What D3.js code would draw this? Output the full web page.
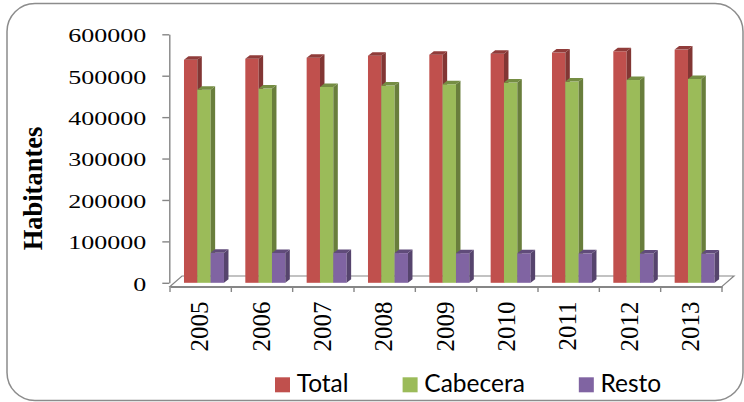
<!DOCTYPE html>
<html>
<head>
<meta charset="utf-8">
<script src="https://cdnjs.cloudflare.com/ajax/libs/d3/7.8.5/d3.min.js"></script>
<style>
body{margin:0;background:#ffffff;}
.serif text{font-family:"Liberation Serif","Times New Roman",serif;}
</style>
</head>
<body>
<div id="ChartPart"></div>
<script>
//Data of the chart-----------------------------------------------------------------------------------------
var Years = ["2005","2006","2007","2008","2009","2010","2011","2012","2013"];
var SeriesNames = ["Total","Cabecera","Resto"];
var TotalValues = [538500,541000,543500,548300,550800,553300,555800,559000,563000];
var CabeceraValues = [466400,468900,472800,476100,479300,483400,485800,489600,492100];
var RestoValues = [72400,72200,71900,71700,71500,71300,71100,70800,70500];
var YTicks = [0,100000,200000,300000,400000,500000,600000];
var SeriesColors = ["#C0504D","#9BBB59","#8064A2"];

var SeriesValues = [TotalValues,CabeceraValues,RestoValues];
var AxisColor = "#868686";
var SerifFont = "Liberation Serif";
var BarDx = 4.5, BarDy = -3.5;
var FloorDx = 12, FloorDy = -10.5;

//Create the svg--------------------------------------------------------------------------------------------
var ChartSvg = d3.select('#ChartPart')
	.append("svg")
	.attr("id","ChartSvg")
	.attr("width",744)
	.attr("height",402);

//Chart border
ChartSvg.append("rect")
	.attr("x",7)
	.attr("y",3.5)
	.attr("width",736)
	.attr("height",397)
	.attr("rx",28)
	.style("fill","#ffffff")
	.style("stroke","#8c8c8c")
	.style("stroke-width",1.5);

//Scales-----------------------------------------------------------------------------------------------------
var y = d3.scaleLinear().domain([0,600000]).range([282.8,34.3]);
var x0 = d3.scaleBand().domain(Years).range([170,722]);
var x1 = d3.scaleBand().domain(SeriesNames).range([0,x0.bandwidth()*0.652]);
var GroupOffset = x0.bandwidth()*0.228;
var FloorY = 286.5;

//Floor of the 3D chart--------------------------------------------------------------------------------------
var FloorPoints = [
	[x0.range()[0],FloorY],
	[x0.range()[0]+FloorDx,FloorY+FloorDy],
	[x0.range()[1]+FloorDx,FloorY+FloorDy],
	[x0.range()[1],FloorY]
];
ChartSvg.append("polygon")
	.attr("points",FloorPoints.map(function(p){return p.join(",");}).join(" "))
	.style("fill","none")
	.style("stroke",AxisColor)
	.style("stroke-width",1.2);

//Y axis-----------------------------------------------------------------------------------------------------
var YAxis = ChartSvg.append("g")
	.attr("class","serif")
	.attr("transform","translate(169.3,0)")
	.call(d3.axisLeft(y).tickValues(YTicks).tickSize(7).tickSizeOuter(0).tickPadding(16).tickFormat(d3.format("d")))
	.attr("font-family",SerifFont)
	.attr("font-size",26);
YAxis.select(".domain").style("stroke",AxisColor).style("stroke-width",1.4);
YAxis.selectAll(".tick line").style("stroke",AxisColor).style("stroke-width",1.4);
YAxis.selectAll(".tick text")
	.attr("dy","0.38em")
	.attr("transform","scale(1,0.75)")
	.style("fill","#000000");

//Y axis title
ChartSvg.append("text")
	.attr("transform","translate(41.5,188.5) rotate(-90)")
	.attr("text-anchor","middle")
	.text("Habitantes")
	.style("font-family",SerifFont)
	.style("font-weight","bold")
	.style("font-size","26.5px")
	.style("fill","#000000");

//Bars----------------------------------------------------------------------------------------------------------
var BarData = [];
for(var i=0;i<Years.length;i++)
	{
		for(var j=0;j<SeriesNames.length;j++)
			{
				BarData.push({year:Years[i],series:SeriesNames[j],value:SeriesValues[j][i],color:SeriesColors[j]});
			}
	}

var Bars = ChartSvg.selectAll(".bar")
	.data(BarData)
	.enter()
	.append("g")
	.attr("class","bar");

function BarLeft(d){ return x0(d.year)+GroupOffset+x1(d.series); }

Bars.append("rect")
	.attr("x",function(d){return BarLeft(d);})
	.attr("y",function(d){return y(d.value);})
	.attr("width",x1.bandwidth())
	.attr("height",function(d){return y(0)-y(d.value);})
	.style("fill",function(d){return d.color;});

Bars.append("polygon")
	.attr("points",function(d){
		var xl = BarLeft(d)+x1.bandwidth();
		return [[xl,y(d.value)],[xl+BarDx,y(d.value)+BarDy],[xl+BarDx,y(0)+BarDy],[xl,y(0)]].map(function(p){return p.join(",");}).join(" ");
	})
	.style("fill",function(d){return d3.color(d.color).darker(1.1);});

Bars.append("polygon")
	.attr("points",function(d){
		var xl = BarLeft(d), xr = xl+x1.bandwidth(), yt = y(d.value);
		return [[xl,yt],[xl+BarDx,yt+BarDy],[xr+BarDx,yt+BarDy],[xr,yt]].map(function(p){return p.join(",");}).join(" ");
	})
	.style("fill",function(d){return d3.color(d.color).darker(0.8);});

//X axis-------------------------------------------------------------------------------------------------------
var XAxis = ChartSvg.append("g")
	.attr("class","serif")
	.attr("transform","translate(0,"+FloorY+")")
	.call(d3.axisBottom(x0).tickSize(0).tickSizeOuter(0))
	.attr("font-family",SerifFont)
	.attr("font-size",25);
XAxis.select(".domain").style("stroke",AxisColor).style("stroke-width",2);
XAxis.selectAll(".tick text")
	.attr("transform","rotate(-90)")
	.attr("x",-15)
	.attr("y",0)
	.attr("dy","0.3em")
	.attr("text-anchor","end")
	.style("fill","#000000");

XAxis.selectAll(".boundtick")
	.data(d3.range(Years.length+1))
	.enter()
	.append("line")
	.attr("class","boundtick")
	.attr("x1",function(d){return x0.range()[0]+d*x0.step();})
	.attr("x2",function(d){return x0.range()[0]+d*x0.step();})
	.attr("y1",0)
	.attr("y2",5.5)
	.style("stroke",AxisColor)
	.style("stroke-width",1.4);

//Legend--------------------------------------------------------------------------------------------------------
var LegendX = 275;
for(var k=0;k<SeriesNames.length;k++)
	{
		ChartSvg.append("rect")
			.attr("x",LegendX)
			.attr("y",377.3)
			.attr("width",15)
			.attr("height",15)
			.style("fill",SeriesColors[k]);
		var LegendText = ChartSvg.append("text")
			.attr("x",LegendX+21.7)
			.attr("y",391.7)
			.text(SeriesNames[k])
			.style("font-family","Lato,'Open Sans',sans-serif")
			.style("font-size","24.5px")
			.style("fill","#000000");
		LegendX = LegendX+21.7+LegendText.node().getComputedTextLength()+54;
	}
</script>
</body>
</html>
